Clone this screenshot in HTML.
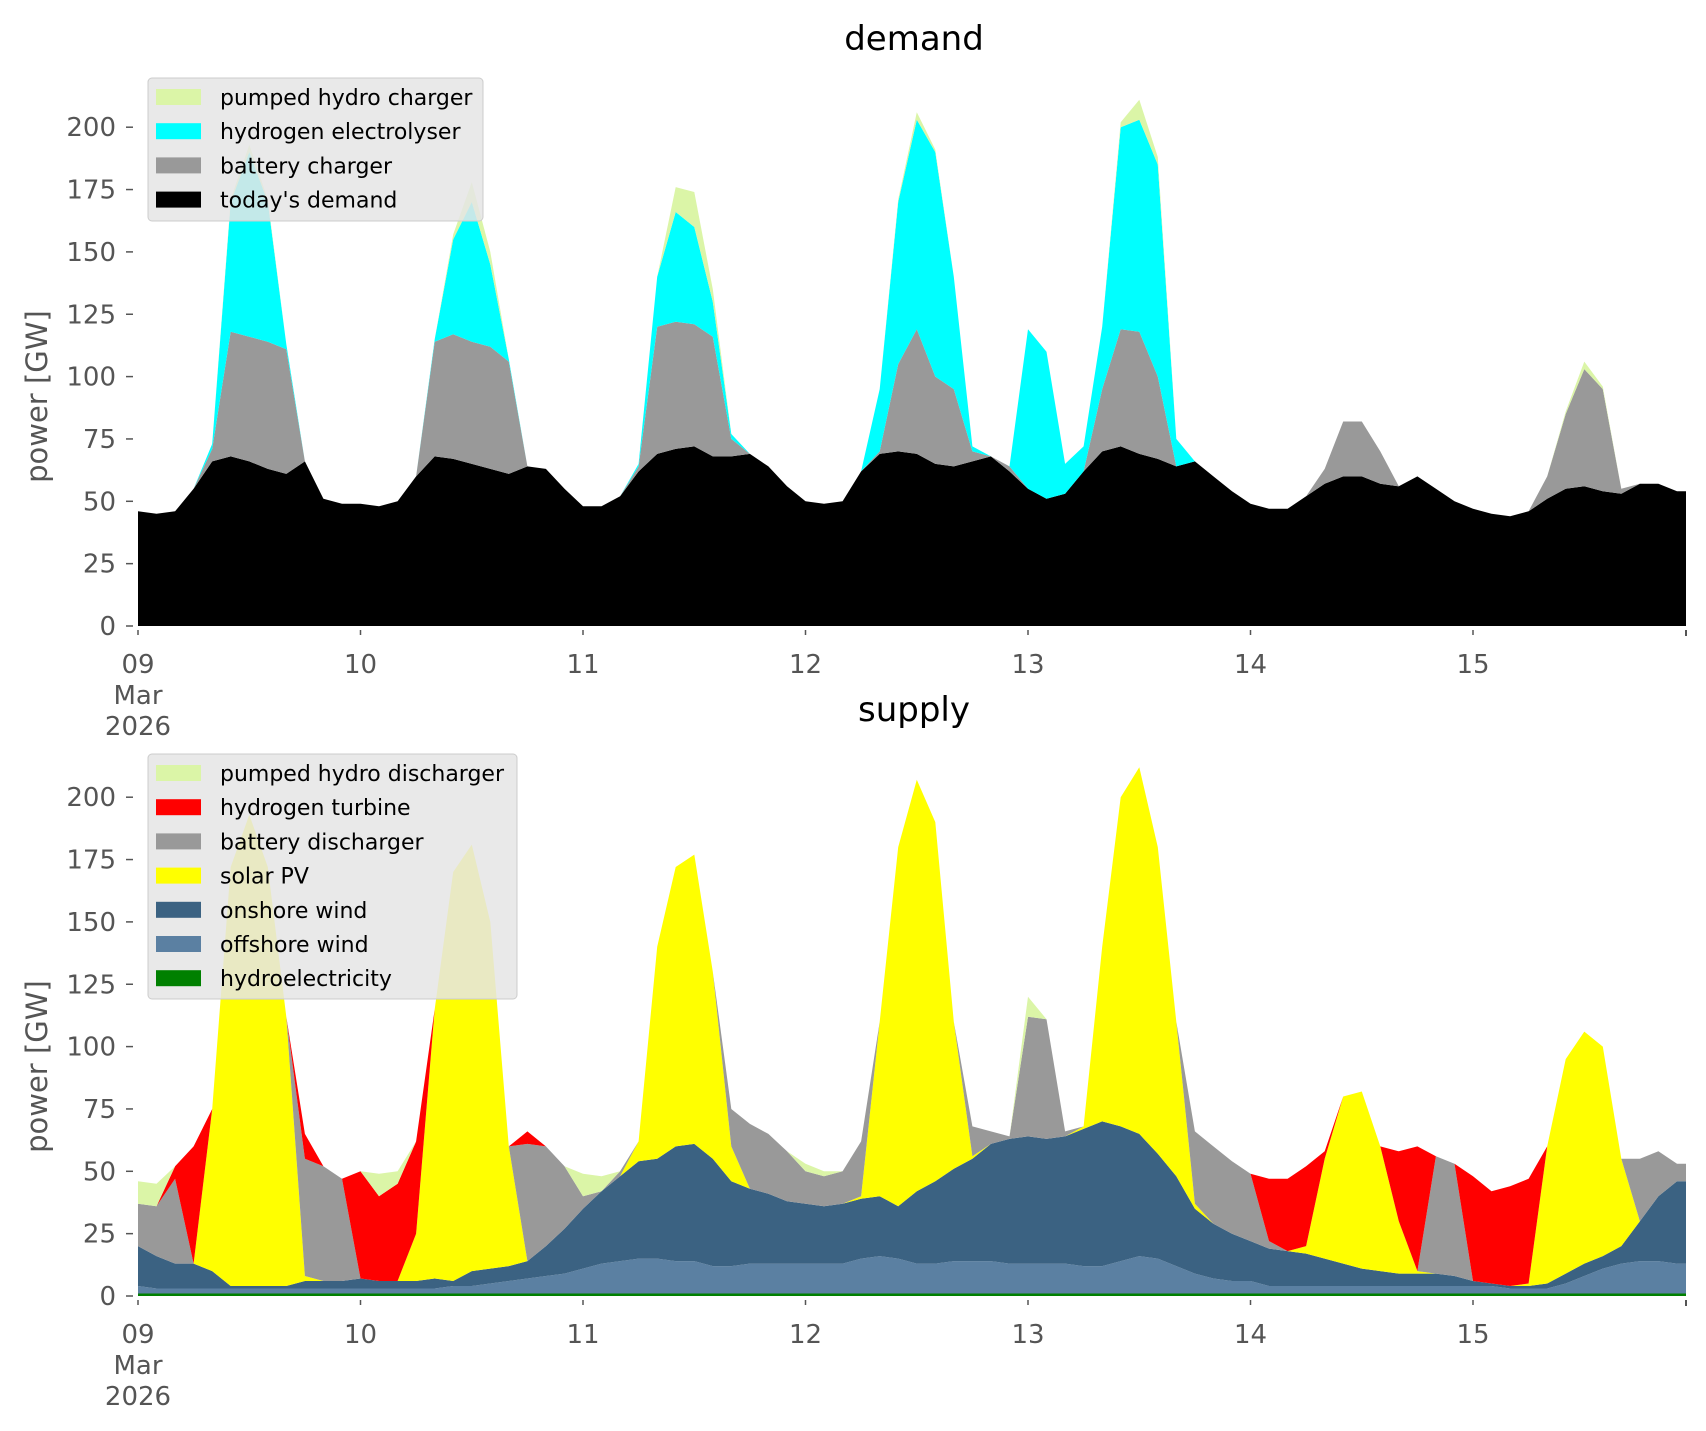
<!DOCTYPE html>
<html><head><meta charset="utf-8">
<style>
html,body{margin:0;padding:0;background:#fff;}
svg{display:block;font-family:"DejaVu Sans","Liberation Sans",sans-serif;}
</style></head>
<body>
<svg id="chart" width="1706" height="1431" viewBox="0 0 1706 1431" xmlns="http://www.w3.org/2000/svg">
<g id="top"></g>
<g id="bot"></g>
</svg>
<script>
// 2-hourly values, 09 Mar 00:00 .. 15 Mar 22:00 (84 points)
const dayTicks = ["09","10","11","12","13","14","15"];
const yTicks = [0,25,50,75,100,125,150,175,200];

const todaysDemand = [46,45,46,55,66,68,66,63,61,66,51,49, 49,48,50,60,68,67,65,63,61,64,63,55, 48,48,52,62,69,71,72,68,68,69,64,56, 50,49,50,62,69,70,69,65,64,66,68,62, 55,51,53,62,70,72,69,67,64,66,60,54, 49,47,47,52,57,60,60,57,56,60,55,50, 47,45,44,46,51,55,56,54,53,57,57,54];
const batteryCharger = [0,0,0,0,5,50,50,51,50,0,0,0, 0,0,0,0,46,50,49,49,45,0,0,0, 0,0,0,2,51,51,49,48,7,0,0,0, 0,0,0,0,1,35,50,35,31,4,0,2, 0,0,0,0,25,47,49,33,0,0,0,0, 0,0,0,0,6,22,22,13,0,0,0,0, 0,0,0,0,9,30,47,41,2,0,0,0];
const electrolyser = [0,0,0,0,2,52,74,56,2,0,0,0, 0,0,0,0,1,38,56,33,1,0,0,0, 0,0,0,1,20,44,39,14,2,0,0,0, 0,0,0,0,25,65,84,90,45,2,0,0, 64,59,12,10,25,81,85,85,11,0,0,0, 0,0,0,0,0,0,0,0,0,0,0,0, 0,0,0,0,0,0,0,0,0,0,0,0];
const pumpedCharger = [0,0,0,0,0,1,3,1,0,0,0,0, 0,0,0,0,0,2,8,5,0,0,0,0, 0,0,0,0,0,10,14,5,0,0,0,0, 0,0,0,0,0,1,3,1,0,0,0,0, 0,0,0,0,0,2,8,3,0,0,0,0, 0,0,0,0,0,0,0,0,0,0,0,0, 0,0,0,0,0,1,3,1,0,0,0,0];

const hydro = [1,1,1,1,1,1,1,1,1,1,1,1, 1,1,1,1,1,1,1,1,1,1,1,1, 1,1,1,1,1,1,1,1,1,1,1,1, 1,1,1,1,1,1,1,1,1,1,1,1, 1,1,1,1,1,1,1,1,1,1,1,1, 1,1,1,1,1,1,1,1,1,1,1,1, 1,1,1,1,1,1,1,1,1,1,1,1];
const offshore = [3,2,2,2,2,2,2,2,2,2,2,2, 2,2,2,2,2,3,3,4,5,6,7,8, 10,12,13,14,14,13,13,11,11,12,12,12, 12,12,12,14,15,14,12,12,13,13,13,12, 12,12,12,11,11,13,15,14,11,8,6,5, 5,3,3,3,3,3,3,3,3,3,3,3, 3,3,2,2,2,4,7,10,12,13,13,12];
const onshore = [16,13,10,10,7,1,1,1,1,3,3,3, 4,3,3,3,4,2,6,6,6,7,12,18, 24,29,34,39,40,46,47,43,34,30,28,25, 24,23,24,24,24,21,29,33,37,41,47,50, 51,50,51,55,58,54,49,42,36,26,22,19, 16,15,14,13,11,9,7,6,5,5,5,4, 2,1,1,1,2,4,5,5,7,16,26,33];
const solar = [0,0,0,0,65,168,189,168,108,2,0,0, 0,0,0,19,108,164,171,139,48,0,0,0, 0,0,0,8,85,112,116,75,14,0,0,0, 0,0,0,1,70,144,165,144,59,1,0,0, 0,0,0,1,70,132,147,123,62,2,0,0, 0,0,0,3,40,67,71,50,21,1,0,0, 0,0,0,1,55,86,93,84,35,0,0,0];
const batteryDischarger = [17,20,34,0,0,0,0,0,0,47,46,41, 0,0,0,0,0,0,0,0,0,47,40,25, 5,0,2,0,0,0,0,0,15,26,24,20, 13,12,13,22,0,0,0,0,0,12,5,1, 48,48,2,0,0,0,0,0,0,29,31,29, 27,3,0,0,0,0,0,0,0,0,47,45, 0,0,0,0,0,0,0,0,0,25,18,7];
const h2Turbine = [0,0,5,47,0,0,0,0,0,10,0,0, 43,34,39,37,0,0,0,0,0,5,0,0, 0,0,0,0,0,0,0,0,0,0,0,0, 0,0,0,0,0,0,0,0,0,0,0,0, 0,0,0,0,0,0,0,0,0,0,0,0, 0,25,29,32,3,0,0,0,28,50,0,0, 42,37,40,42,0,0,0,0,0,0,0,0];
const pumpedDischarger = [9,9,0,0,0,0,0,0,0,0,0,0, 0,9,5,0,0,0,0,0,0,0,0,0, 9,6,0,0,0,0,0,0,0,0,0,0, 3,2,0,0,0,0,0,0,0,0,0,0, 8,0,0,0,0,0,0,0,0,0,0,0, 0,0,0,0,0,0,0,0,0,0,0,0, 0,0,0,0,0,0,0,0,0,0,0,0];

const NS = "http://www.w3.org/2000/svg";
const X0 = 138, DAYW = 222.5, XEND = 1686, PXGW = 2.494;
function xScale(i){ return X0 + (i*2)/24*DAYW; }
function mk(tag, attrs, parent){
  const e = document.createElementNS(NS, tag);
  for (const k in attrs) e.setAttribute(k, attrs[k]);
  parent.appendChild(e); return e;
}

function panel(g, y0, title, titleY, series, legend, legendBox){
  const yS = v => y0 - v*PXGW;
  let base = todaysDemand.map(()=>0);
  series.forEach(s=>{
    const top = base.map((b,i)=>b + s.data[i]);
    let pts = top.map((v,i)=>xScale(i).toFixed(1)+","+yS(v).toFixed(1));
    pts.push(XEND+","+yS(top[top.length-1]).toFixed(1));
    pts.push(XEND+","+yS(base[base.length-1]).toFixed(1));
    for (let i=base.length-1;i>=0;i--) pts.push(xScale(i).toFixed(1)+","+yS(base[i]).toFixed(1));
    const p = mk("polygon",{points:pts.join(" "),fill:s.color,stroke:"none"},g);
    
    
    base = top;
  });
  yTicks.forEach(t=>{
    const y = yS(t);
    const l = mk("line",{x1:126,x2:133,y1:y,y2:y,stroke:"#555","stroke-width":1.5},g);
    
    
    const tx = mk("text",{x:116,y:y+9,"text-anchor":"end","font-size":26,fill:"#555"},g);
    tx.textContent = t;
    
    
  });
  dayTicks.forEach((d,k)=>{
    const x = X0 + k*DAYW;
    const l = mk("line",{x1:x,x2:x,y1:y0+4,y2:y0+9,stroke:"#555","stroke-width":1.5},g);
    
    
    const tx = mk("text",{x:x,y:y0+47,"text-anchor":"middle","font-size":26,fill:"#555"},g);
    tx.textContent = d;
    
    
  });
  const le = mk("line",{x1:XEND,x2:XEND,y1:y0+4,y2:y0+10,stroke:"#555","stroke-width":2},g);
  
  
  [["Mar",78],["2026",109]].forEach(([t,dy])=>{
    const tx = mk("text",{x:X0,y:y0+dy,"text-anchor":"middle","font-size":26,fill:"#555"},g);
    tx.textContent = t;
    
    
  });
  const yc = (y0 + yS(200))/2 + 20;
  const yl = mk("text",{x:0,y:0,transform:`translate(47,${yc}) rotate(-90)`,"text-anchor":"middle","font-size":29,fill:"#555"},g);
  yl.textContent = "power [GW]";
  
  
  const tt = mk("text",{x:914,y:titleY,"text-anchor":"middle","font-size":34,fill:"#000"},g);
  tt.textContent = title;
  
  
  const lg = mk("g",{},g);
  
  
  mk("rect",{x:legendBox[0],y:legendBox[1],width:legendBox[2],height:legendBox[3],rx:4,fill:"#e5e5e5","fill-opacity":0.85,stroke:"#cccccc"},lg);
  legend.forEach((s,k)=>{
    const cy = legendBox[1] + 19 + k*34.2;
    const r = mk("rect",{x:156,y:cy-8,width:45,height:16,fill:s.color},lg);
    
    
    const tx = mk("text",{x:220,y:cy+8,"font-size":22,fill:"#000"},lg);
    tx.textContent = s.label;
    
    
  });
}

const demandSeries = [
  {name:"todays-demand",label:"today's demand",color:"#000000",data:todaysDemand},
  {name:"battery-charger",label:"battery charger",color:"#999999",data:batteryCharger},
  {name:"hydrogen-electrolyser",label:"hydrogen electrolyser",color:"#00ffff",data:electrolyser},
  {name:"pumped-hydro-charger",label:"pumped hydro charger",color:"#dbf5a7",data:pumpedCharger}
];
const supplySeries = [
  {name:"hydroelectricity",label:"hydroelectricity",color:"#008000",data:hydro},
  {name:"offshore-wind",label:"offshore wind",color:"#5b80a2",data:offshore},
  {name:"onshore-wind",label:"onshore wind",color:"#3b6282",data:onshore},
  {name:"solar-pv",label:"solar PV",color:"#ffff00",data:solar},
  {name:"battery-discharger",label:"battery discharger",color:"#999999",data:batteryDischarger},
  {name:"hydrogen-turbine",label:"hydrogen turbine",color:"#ff0000",data:h2Turbine},
  {name:"pumped-hydro-discharger",label:"pumped hydro discharger",color:"#dbf5a7",data:pumpedDischarger}
];
panel(document.getElementById("top"), 626, "demand", 50, demandSeries, demandSeries.slice().reverse(), [148,78,335,143]);
panel(document.getElementById("bot"), 1296, "supply", 721, supplySeries, supplySeries.slice().reverse(), [148,754,369,245]);
</script>
</body></html>
